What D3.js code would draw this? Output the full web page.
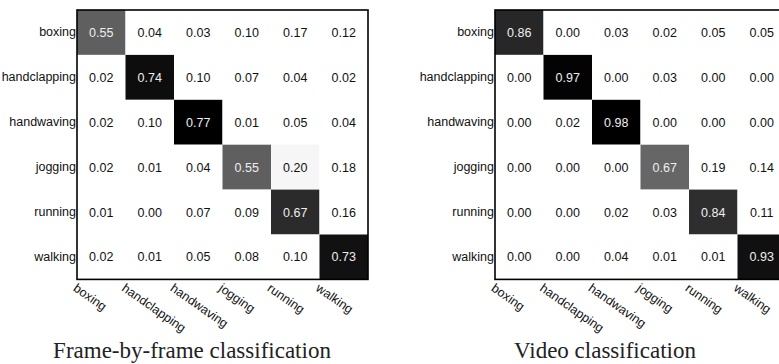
<!DOCTYPE html>
<html>
<head>
<meta charset="utf-8">
<script src="https://cdn.jsdelivr.net/npm/d3@7"></script>
<style>
  body { margin: 0; background: #fff; }
  svg { display: block; }
  .tick text { font-family: 'Liberation Sans', Arial, sans-serif; font-size: 12.5px; fill: #111; }
</style>
</head>
<body>
<svg id="chart" width="779" height="364"></svg>
<script>
const classes = ['boxing', 'handclapping', 'handwaving', 'jogging', 'running', 'walking'];

const frameValues = [
  [0.55, 0.04, 0.03, 0.10, 0.17, 0.12],
  [0.02, 0.74, 0.10, 0.07, 0.04, 0.02],
  [0.02, 0.10, 0.77, 0.01, 0.05, 0.04],
  [0.02, 0.01, 0.04, 0.55, 0.20, 0.18],
  [0.01, 0.00, 0.07, 0.09, 0.67, 0.16],
  [0.02, 0.01, 0.05, 0.08, 0.10, 0.73]
];

const videoValues = [
  [0.86, 0.00, 0.03, 0.02, 0.05, 0.05],
  [0.00, 0.97, 0.00, 0.03, 0.00, 0.00],
  [0.00, 0.02, 0.98, 0.00, 0.00, 0.00],
  [0.00, 0.00, 0.00, 0.67, 0.19, 0.14],
  [0.00, 0.00, 0.02, 0.03, 0.84, 0.11],
  [0.00, 0.00, 0.04, 0.01, 0.01, 0.93]
];

// white -> black range of each colour map
const frameRange = [0.18, 0.77];
const videoRange = [0.205, 0.98];

const titles = ['Frame-by-frame classification', 'Video classification'];

const svg = d3.select('#chart');
const cellW = 48.5, cellH = 44.9;
const matTop = 10;

const drawMatrix = (values, range, left, title, titleX) => {
  const x = d3.scaleBand().domain(classes).range([left, left + cellW * classes.length]);
  const y = d3.scaleBand().domain(classes).range([matTop, matTop + cellH * classes.length]);
  const shade = d3.scaleLinear().domain(range).range([255, 0]).clamp(true);

  const cells = [];
  values.forEach((row, i) => row.forEach((v, j) => cells.push({ r: classes[i], c: classes[j], v: v })));

  const g = svg.append('g');

  g.selectAll('rect.cell')
    .data(cells)
    .join('rect').attr('class', 'cell')
    .attr('x', d => x(d.c))
    .attr('y', d => y(d.r))
    .attr('width', x.bandwidth())
    .attr('height', y.bandwidth())
    .style('fill', d => { const s = Math.round(shade(d.v)); return `rgb(${s},${s},${s})`; });

  g.selectAll('text.val')
    .data(cells)
    .join('text').attr('class', 'val')
    .attr('x', d => x(d.c) + x.bandwidth() / 2)
    .attr('y', d => y(d.r) + y.bandwidth() / 2)
    .attr('dy', '0.36em')
    .style('text-anchor', 'middle')
    .style('font-family', "'Liberation Sans', Arial, sans-serif")
    .style('font-size', '12.5px')
    .style('fill', d => shade(d.v) < 128 ? '#eee' : '#111')
    .text(d => d.v.toFixed(2));

  g.append('rect')
    .attr('x', x.range()[0])
    .attr('y', y.range()[0])
    .attr('width', x.range()[1] - x.range()[0])
    .attr('height', y.range()[1] - y.range()[0])
    .style('fill', 'none')
    .style('stroke', '#000')
    .style('stroke-width', 1.6);

  const yAxis = d3.axisLeft(y).tickSize(0).tickPadding(1);
  g.append('g')
    .attr('class', 'yaxis')
    .attr('transform', `translate(${left}, 0)`)
    .call(yAxis)
    .call(a => a.select('.domain').remove());

  const xAxis = d3.axisBottom(x).tickSize(0).tickPadding(0);
  g.append('g')
    .attr('class', 'xaxis')
    .attr('transform', `translate(0, ${y.range()[1] + 3})`)
    .call(xAxis)
    .call(a => a.select('.domain').remove())
    .selectAll('text')
    .attr('y', 0)
    .attr('dy', '0.75em')
    .style('text-anchor', 'start')
    .attr('transform', `translate(${-x.bandwidth() / 2 + 1}, 0) rotate(35)`);

  // caption under the panel
  svg.append('text')
    .attr('x', titleX)
    .attr('y', 358)
    .style('text-anchor', 'middle')
    .style('font-family', "'Liberation Serif', 'Times New Roman', serif")
    .style('font-size', '23px')
    .style('fill', '#222')
    .text(title);
};

drawMatrix(frameValues, frameRange, 77, titles[0], 192);
drawMatrix(videoValues, videoRange, 495, titles[1], 605);
</script>
</body>
</html>
